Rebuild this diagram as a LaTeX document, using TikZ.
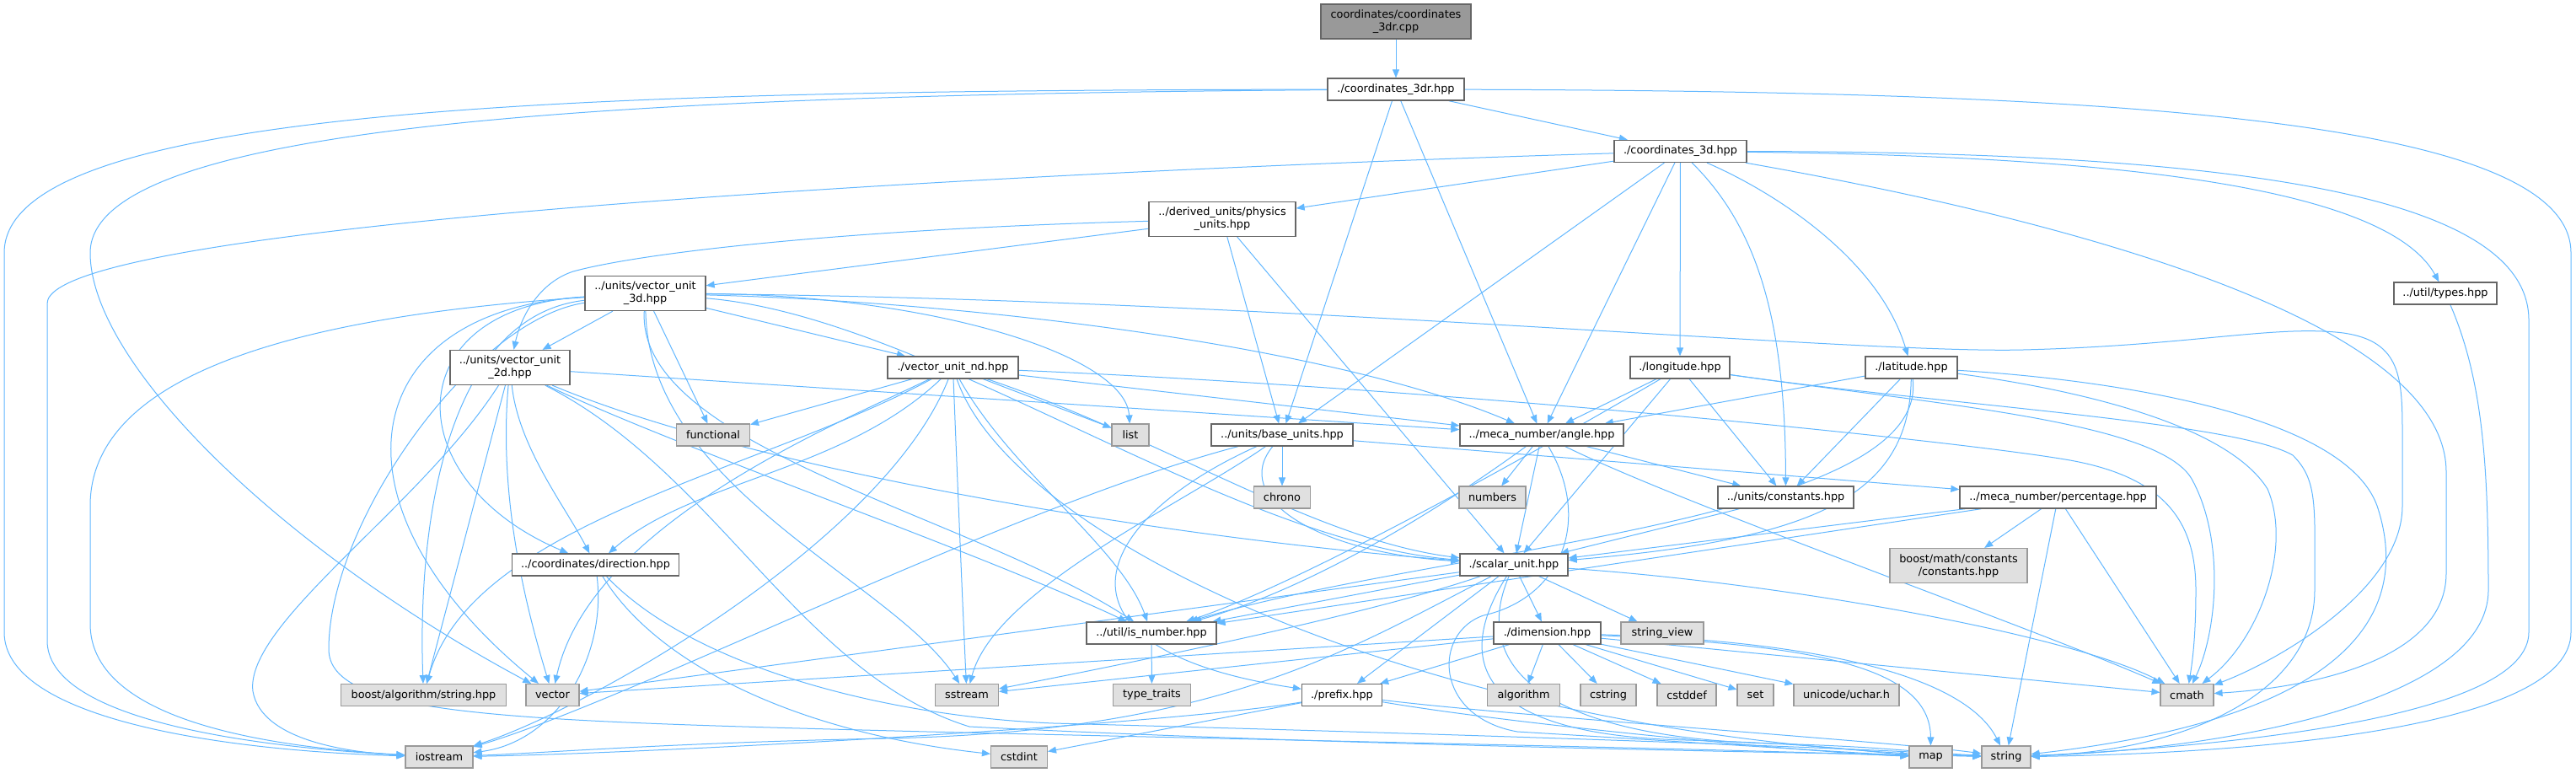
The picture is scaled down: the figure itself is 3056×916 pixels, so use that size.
\documentclass[tikz,border=0pt]{standalone}
\usepackage{fontspec}
\setmainfont{DejaVu Sans}
\usetikzlibrary{arrows.meta}
\definecolor{edgec}{HTML}{63B8FF}
\definecolor{docb}{HTML}{666666}
\definecolor{sysb}{HTML}{999999}
\definecolor{sysf}{HTML}{E0E0E0}
\definecolor{rootf}{HTML}{999999}
\pgfdeclarelayer{paper}
\pgfdeclarelayer{edges}
\pgfsetlayers{paper,edges,main}
\tikzset{
 nb/.style={draw=docb, fill=white, line width=1.3pt, inner sep=0pt, align=center, font=\fontsize{12.85}{15}\selectfont, minimum height=26pt},
 sb/.style={nb, draw=sysb, fill=sysf, line width=1.1pt},
 rb/.style={nb, fill=rootf},
 e/.style={draw=edgec, line width=1pt, -{Triangle[length=10pt,width=8pt]}},
}
\begin{document}
\begin{tikzpicture}[x=1pt,y=-1pt]
\begin{pgfonlayer}{paper}
\path[use as bounding box, fill=white] (0,0) rectangle (3056,916);
\end{pgfonlayer}
\node[rb, minimum width=178pt, minimum height=41pt] (root) at (1656,25.5) {coordinates/coordinates\\\_3dr.cpp};
\node[nb, minimum width=162pt] (c3dr) at (1656,106) {./coordinates\_3dr.hpp};
\node[nb, minimum width=157pt] (c3d) at (1993.5,179.5) {./coordinates\_3d.hpp};
\node[nb, minimum width=174pt, minimum height=41pt] (phys) at (1450,260) {../derived\_units/physics\\\_units.hpp};
\node[nb, minimum width=143pt, minimum height=41pt] (vu3d) at (765.5,348) {../units/vector\_unit\\\_3d.hpp};
\node[nb, minimum width=142pt, minimum height=41pt] (vu2d) at (605,436) {../units/vector\_unit\\\_2d.hpp};
\node[nb, minimum width=155pt] (vund) at (1130.5,436) {./vector\_unit\_nd.hpp};
\node[nb, minimum width=118pt] (lon) at (1993,436) {./longitude.hpp};
\node[nb, minimum width=109pt] (lat) at (2267.5,436) {./latitude.hpp};
\node[nb, minimum width=122pt] (types) at (2901,348) {../util/types.hpp};
\node[sb, minimum width=87pt] (func) at (846,516) {functional};
\node[sb, minimum width=44pt] (list) at (1341,516) {list};
\node[nb, minimum width=168pt] (base) at (1521,516) {../units/base\_units.hpp};
\node[nb, minimum width=194pt] (angle) at (1829,516) {../meca\_number/angle.hpp};
\node[sb, minimum width=67pt] (chrono) at (1521,590) {chrono};
\node[sb, minimum width=79pt] (numbers) at (1770.5,590) {numbers};
\node[nb, minimum width=161pt] (uconst) at (2118.5,590) {../units/constants.hpp};
\node[nb, minimum width=233pt] (perc) at (2441.5,590) {../meca\_number/percentage.hpp};
\node[sb, minimum width=163pt, minimum height=41pt] (bmath) at (2323.5,671) {boost/math/constants\\/constants.hpp};
\node[nb, minimum width=198pt] (dir) at (706.5,670) {../coordinates/direction.hpp};
\node[nb, minimum width=128pt] (scalar) at (1796,670) {./scalar\_unit.hpp};
\node[nb, minimum width=154pt] (isnum) at (1366,751) {../util/is\_number.hpp};
\node[nb, minimum width=127pt] (dim) at (1835.5,751) {./dimension.hpp};
\node[sb, minimum width=98pt] (sview) at (1972,751) {string\_view};
\node[sb, minimum width=196pt] (bstring) at (502.5,824.5) {boost/algorithm/string.hpp};
\node[sb, minimum width=63pt] (vector) at (655.5,824.5) {vector};
\node[sb, minimum width=75pt] (sstream) at (1147,824.5) {sstream};
\node[sb, minimum width=92pt] (ttraits) at (1366.5,824.5) {type\_traits};
\node[nb, minimum width=95pt] (prefix) at (1592,824.5) {./prefix.hpp};
\node[sb, minimum width=86pt] (algorithm) at (1807.5,824.5) {algorithm};
\node[sb, minimum width=66pt] (cstring) at (1908,824.5) {cstring};
\node[sb, minimum width=70pt] (cstddef) at (2001,824.5) {cstddef};
\node[sb, minimum width=43pt] (set) at (2082.5,824.5) {set};
\node[sb, minimum width=125pt] (uchar) at (2190.5,824.5) {unicode/uchar.h};
\node[sb, minimum width=63pt] (cmath) at (2594.5,824.5) {cmath};
\node[sb, minimum width=80pt] (iostream) at (521,898) {iostream};
\node[sb, minimum width=67pt] (cstdint) at (1209,898) {cstdint};
\node[sb, minimum width=51pt] (map) at (2290.5,898) {map};
\node[sb, minimum width=58pt] (string) at (2380,898) {string};

\begin{pgfonlayer}{edges}
% root
\draw[e] (root) -- (c3dr);
% c3dr
\draw[e] (c3dr) -- (c3d);
\draw[e] (c3dr) -- (base);
\draw[e] (c3dr) -- (angle);
\draw[e] (c3dr) .. controls (700,107) and (5,125) .. (5,300) -- (5,750) .. controls (5,850) and (250,890) .. (iostream);
\draw[e] (c3dr) .. controls (700,113) and (107,150) .. (107,300) .. controls (107,430) and (330,650) .. (vector);
\draw[e] (c3dr) .. controls (2500,108) and (3050,140) .. (3050,300) -- (3050,750) .. controls (3050,860) and (2700,893) .. (string);
% c3d
\draw[e] (c3d) -- (phys);
\draw[e] (c3d) .. controls (1300,200) and (56,260) .. (56,360) -- (56,760) .. controls (56,850) and (280,885) .. (iostream);
\draw[e] (c3d) -- (base);
\draw[e] (c3d) -- (angle);
\draw[e] (c3d) -- (lon);
\draw[e] (c3d) .. controls (2085,270) and (2118,380) .. (uconst);
\draw[e] (c3d) .. controls (2110,230) and (2230,310) .. (lat);
\draw[e] (c3d) .. controls (2500,185) and (2830,220) .. (types);
\draw[e] (c3d) .. controls (2650,180) and (3000,230) .. (3000,380) -- (3000,750) .. controls (3000,850) and (2650,885) .. (string);
\draw[e] (c3d) .. controls (2450,260) and (2902,380) .. (2902,560) -- (2902,680) .. controls (2902,780) and (2750,815) .. (cmath);
% phys
\draw[e] (phys) -- (vu3d);
\draw[e] (phys) .. controls (1000,272) and (760,300) .. (680,322) .. controls (640,335) and (618,375) .. (vu2d);
\draw[e] (phys) -- (base);
\draw[e] (phys) -- (scalar);
% vu3d
\draw[e] (vu3d) -- (vu2d);
\draw[e] (vu3d) -- (vund);
\draw[e] (vu3d) -- (func);
\draw[e] (vu3d) .. controls (1100,350) and (1335,420) .. (list);
\draw[e] (vu3d) .. controls (1150,358) and (1580,410) .. (angle);
\draw[e] (vu3d) .. controls (1100,375) and (1450,640) .. (scalar);
\draw[e] (vu3d) .. controls (755,530) and (1150,610) .. (isnum);
\draw[e] (vu3d) .. controls (770,580) and (1060,690) .. (sstream);
\draw[e] (vu3d) .. controls (470,365) and (470,570) .. (dir);
\draw[e] (vu3d) .. controls (530,375) and (495,620) .. (bstring);
\draw[e] (vu3d) .. controls (420,368) and (380,600) .. (vector);
\draw[e] (vu3d) .. controls (400,372) and (107,430) .. (107,600) -- (107,740) .. controls (107,850) and (300,885) .. (iostream);
\draw[e] (vu3d) .. controls (560,380) and (390,620) .. (390,770) .. controls (390,850) and (600,855) .. (1100,868) .. controls (1700,882) and (2100,890) .. (map);
\draw[e] (vu3d) .. controls (1500,355) and (2200,420) .. (2400,415) .. controls (2600,410) and (2700,385) .. (2780,395) .. controls (2850,405) and (2850,450) .. (2850,520) -- (2850,600) .. controls (2850,700) and (2700,785) .. (cmath);
% vu2d
\draw[e] (vu2d) -- (angle);
\draw[e] (vu2d) .. controls (615,530) and (670,600) .. (dir);
\draw[e] (vu2d) -- (bstring);
\draw[e] (vu2d) .. controls (500,600) and (290,740) .. (300,820) .. controls (310,880) and (420,893) .. (iostream);
\draw[e] (vu2d) .. controls (900,560) and (1400,640) .. (scalar);
\draw[e] (vu2d) .. controls (800,530) and (1150,650) .. (isnum);
\draw[e] (vu2d) .. controls (590,600) and (630,740) .. (vector);
\draw[e] (vu2d) .. controls (850,560) and (950,800) .. (1150,862) .. controls (1600,885) and (2150,893) .. (string);
% vund
\draw[e] (vund) -- (func);
\draw[e] (vund) -- (list);
\draw[e] (vund) -- (angle);
\draw[e] (vund) .. controls (1700,460) and (2300,520) .. (2450,545) .. controls (2570,565) and (2605,620) .. (2605,700) .. controls (2605,760) and (2600,790) .. (cmath);
\draw[e] (vund) .. controls (1137,600) and (1143,740) .. (sstream);
\draw[e] (vund) .. controls (1200,560) and (1330,650) .. (isnum);
\draw[e] (vund) .. controls (1380,520) and (1560,640) .. (scalar);
\draw[e] (vund) .. controls (1000,560) and (820,570) .. (dir);
\draw[e] (vund) .. controls (900,560) and (560,620) .. (bstring);
\draw[e] (vund) .. controls (1000,500) and (700,620) .. (vector);
\draw[e] (vund) .. controls (1050,640) and (700,840) .. (iostream);
\draw[e] (vund) .. controls (1200,640) and (1700,880) .. (string);
% lon
\draw[e] (lon) -- (angle);
\draw[e] (lon) -- (uconst);
\draw[e] (lon) -- (scalar);
\draw[e] (lon) .. controls (1850,520) and (1550,690) .. (isnum);
\draw[e] (lon) .. controls (2300,480) and (2560,500) .. (2600,568) .. controls (2640,640) and (2630,750) .. (cmath);
\draw[e] (lon) .. controls (2300,480) and (2650,500) .. (2720,540) .. controls (2750,570) and (2746,600) .. (2746,700) .. controls (2746,820) and (2600,890) .. (string);
% lat
\draw[e] (lat) -- (angle);
\draw[e] (lat) -- (uconst);
\draw[e] (lat) .. controls (2265,590) and (2150,640) .. (scalar);
\draw[e] (lat) .. controls (2290,620) and (1700,650) .. (isnum);
\draw[e] (lat) .. controls (2450,460) and (2640,500) .. (2690,580) .. controls (2720,650) and (2680,760) .. (cmath);
\draw[e] (lat) .. controls (2500,450) and (2780,490) .. (2820,600) .. controls (2860,720) and (2800,850) .. (string);
% types
\draw[e] (types) .. controls (2945,450) and (2952,550) .. (2952,700) .. controls (2952,830) and (2650,888) .. (string);
% base
\draw[e] (base) -- (chrono);
\draw[e] (base) -- (perc);
\draw[e] (base) .. controls (1460,590) and (1560,655) .. (scalar);
\draw[e] (base) .. controls (1400,600) and (1180,700) .. (sstream);
\draw[e] (base) .. controls (1290,620) and (1230,770) .. (prefix);
\draw[e] (base) .. controls (1200,600) and (750,830) .. (iostream);
% angle
\draw[e] (angle) -- (numbers);
\draw[e] (angle) -- (uconst);
\draw[e] (angle) -- (scalar);
\draw[e] (angle) .. controls (1700,610) and (1550,700) .. (isnum);
\draw[e] (angle) .. controls (2000,600) and (2400,740) .. (cmath);
\draw[e] (angle) .. controls (1890,620) and (1850,710) .. (1760,730) .. controls (1700,750) and (1700,850) .. (1800,868) .. controls (2000,880) and (2150,890) .. (map);
% uconst
\draw[e] (uconst) -- (scalar);
% perc
\draw[e] (perc) -- (bmath);
\draw[e] (perc) -- (scalar);
\draw[e] (perc) -- (isnum);
\draw[e] (perc) -- (cmath);
\draw[e] (perc) -- (string);
% dir
\draw[e] (dir) .. controls (720,780) and (660,880) .. (iostream);
\draw[e] (dir) .. controls (780,790) and (950,870) .. (cstdint);
\draw[e] (dir) .. controls (820,790) and (1050,850) .. (1250,858) .. controls (1700,870) and (2150,885) .. (string);
% scalar
\draw[e] (scalar) -- (dim);
\draw[e] (scalar) -- (sview);
\draw[e] (scalar) -- (isnum);
\draw[e] (scalar) -- (prefix);
\draw[e] (scalar) .. controls (1650,720) and (1450,765) .. (sstream);
\draw[e] (scalar) .. controls (1600,770) and (1450,868) .. (1050,876) .. controls (800,881) and (650,893) .. (iostream);
\draw[e] (scalar) .. controls (2100,690) and (2450,750) .. (cmath);
\draw[e] (scalar) -- (vector);
\draw[e] (scalar) .. controls (1740,800) and (1850,875) .. (2100,882) .. controls (2250,886) and (2300,895) .. (string);
\draw[e] (scalar) .. controls (1720,790) and (1760,872) .. (2000,878) .. controls (2150,882) and (2200,890) .. (map);
% dim
\draw[e] (dim) -- (algorithm);
\draw[e] (dim) -- (cstring);
\draw[e] (dim) -- (cstddef);
\draw[e] (dim) -- (set);
\draw[e] (dim) -- (uchar);
\draw[e] (dim) -- (cmath);
\draw[e] (dim) -- (sstream);
\draw[e] (dim) -- (vector);
\draw[e] (dim) -- (prefix);
\draw[e] (dim) .. controls (2150,765) and (2290,790) .. (map);
\draw[e] (dim) .. controls (2150,760) and (2330,800) .. (string);
% prefix
\draw[e] (prefix) -- (cstdint);
\draw[e] (prefix) .. controls (1400,858) and (800,893) .. (iostream);
\draw[e] (prefix) .. controls (1800,860) and (2150,893) .. (map);
\draw[e] (prefix) .. controls (1800,850) and (2250,880) .. (string);
% isnum
\draw[e] (isnum) -- (ttraits);
\end{pgfonlayer}
\end{tikzpicture}
\end{document}
